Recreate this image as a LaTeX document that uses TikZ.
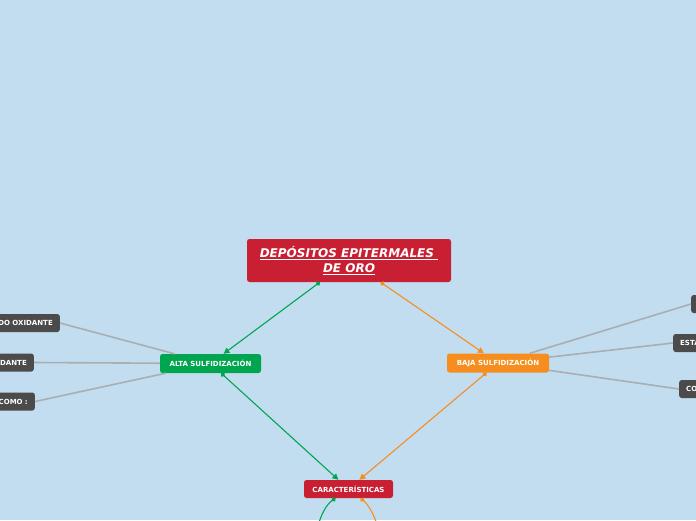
\documentclass[tikz,border=0pt]{standalone}
\usepackage{fontspec}
\setmainfont{DejaVu Sans}
\usepackage{tikz}
\usetikzlibrary{arrows.meta}
\definecolor{bgblue}{HTML}{C2DDF0}
\definecolor{deepred}{HTML}{C81F33}
\definecolor{altagreen}{HTML}{00A54F}
\definecolor{bajaorange}{HTML}{F68E1F}
\definecolor{leafgray}{HTML}{4B4B4B}
\definecolor{branchgray}{HTML}{A9AEB2}

\begin{document}
\begin{tikzpicture}[x=1pt, y=-1pt, font=\bfseries\fontsize{7}{8}\selectfont,
topic/.style={rounded corners=2.5pt, text=white, align=center, inner sep=0pt},
mainbox/.style={topic, fill=deepred, minimum width=204pt, minimum height=43pt, font=\bfseries\itshape\fontsize{12}{15}\selectfont},
altabox/.style={topic, fill=altagreen, minimum width=101pt, minimum height=19pt},
bajabox/.style={topic, fill=bajaorange, minimum width=102pt, minimum height=19pt},
featbox/.style={topic, fill=deepred, minimum width=89pt, minimum height=18pt},
leaf/.style={topic, fill=leafgray, minimum height=18pt, inner xsep=7pt},
altaline/.style={draw=altagreen, line width=1.1pt, arrows={Circle[length=4.5pt]-Triangle[length=6pt,width=6pt]}},
bajaline/.style={draw=bajaorange, line width=1.1pt, arrows={Circle[length=4.5pt]-Triangle[length=6pt,width=6pt]}},
branch/.style={draw=branchgray, line width=1.6pt}]
\useasboundingbox (0,0) rectangle (696,520);
\clip (0,0) rectangle (696,520);
\fill[bgblue] (0,0) rectangle (696,520);

% main topics
\node[mainbox] (main) at (349,260.5) {\underline{DEPÓSITOS EPITERMALES\ }\\\underline{DE ORO}};
\node[altabox] (alta) at (210.5,363.5) {ALTA SULFIDIZACIÓN};
\node[bajabox] (baja) at (498,363) {BAJA SULFIDIZACIÓN};
\node[featbox] (feat) at (348.5,489) {CARACTERÍSTICAS};

% leaves cut by the page edge
\node[leaf, anchor=east, text width=90pt, align=right] (oxidante) at (60,323) {DO OXIDANTE};
\node[leaf, anchor=east, text width=90pt, align=right] (dante) at (34,362.5) {DANTE};
\node[leaf, anchor=east, text width=90pt, align=right] (como) at (35,401.5) {COMO :};
\node[leaf, anchor=west, text width=60pt, align=left] (topright) at (691,304) {};
\node[leaf, anchor=west, text width=60pt, align=left] (esta) at (673,343) {ESTA};
\node[leaf, anchor=west, text width=60pt, align=left] (co) at (679,389) {CO};
\coordinate (lowleft) at (316,545);
\coordinate (lowright) at (380,545);

\draw[branch] (alta) -- (oxidante.east); \draw[branch] (alta) -- (dante.east); \draw[branch] (alta) -- (como.east);
\draw[branch] (baja) -- (topright.west); \draw[branch] (baja) -- (esta.west); \draw[branch] (baja) -- (co.west);

\draw[altaline] (main) -- (alta); \draw[altaline] (alta) -- (feat);
\draw[bajaline] (main) -- (baja); \draw[bajaline] (baja) -- (feat);
\draw[altaline] ([xshift=-13pt]feat.south) .. controls +(-12,8) and +(0,-18) .. (lowleft);
\draw[bajaline] ([xshift=12pt]feat.south) .. controls +(10,8) and +(0,-18) .. (lowright);
\end{tikzpicture}
\end{document}
